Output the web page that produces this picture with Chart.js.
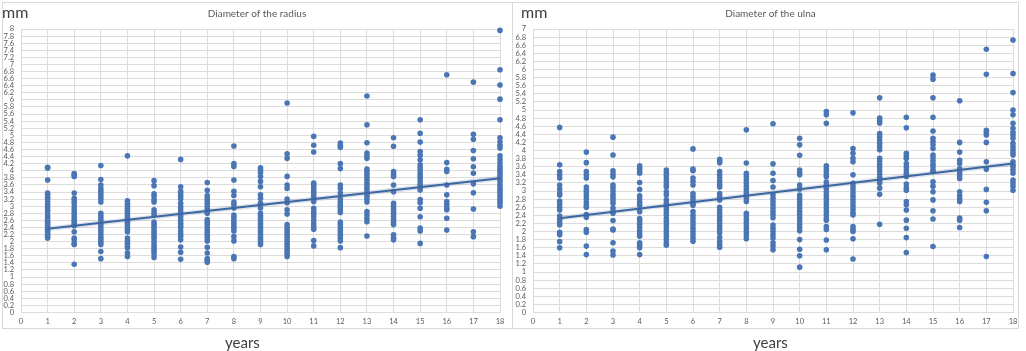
<!DOCTYPE html>
<html>
<head>
<meta charset="utf-8">
<script src="https://cdn.jsdelivr.net/npm/chart.js@4/dist/chart.umd.min.js"></script>
<style>
  html, body { margin: 0; padding: 0; background: #ffffff; }
  body { width: 1026px; height: 351px; position: relative; overflow: hidden; font-family: Lato, "Open Sans", sans-serif; }
  .panel { position: absolute; top: 2px; height: 327px; border: 1px solid #d9d9d9; box-sizing: border-box; }
  .wrap { position: absolute; top: 0; height: 351px; }
  .unit { position: absolute; top: 2px; font-size: 16px; color: #404040; }
  .xlab { position: absolute; top: 333px; font-size: 15px; color: #404040; }
</style>
</head>
<body>
<div class="panel" style="left:2px;width:511px;"></div>
<div class="panel" style="left:512px;width:507px;"></div>
<div class="wrap" style="left:0;width:512px;"><canvas id="c1" width="512" height="351"></canvas></div>
<div class="wrap" style="left:513px;width:513px;"><canvas id="c2" width="513" height="351"></canvas></div>
<div class="unit" style="left:2px;">mm</div>
<div class="unit" style="left:521px;">mm</div>
<div class="xlab" style="left:225px;">years</div>
<div class="xlab" style="left:753px;">years</div>
<script>
// ---------- data ----------
const ages = [1,2,3,4,5,6,7,8,9,10,11,12,13,14,15,16,17,18];

const radiusValues = [
  [4.1,4.08,3.74,3.37,3.32,3.25,3.2,3.12,3.05,2.98,2.9,2.85,2.75,2.68,2.6,2.55,2.5,2.45,2.4,2.35,2.3,2.25,2.2,2.15,2.1],
  [3.92,3.88,3.84,3.37,3.22,3.15,3.08,2.98,2.9,2.82,2.75,2.68,2.6,2.55,2.48,2.45,2.28,2.1,2.05,1.95,1.92,1.36],
  [4.15,3.75,3.6,3.5,3.42,3.35,3.28,3.2,3.12,2.8,2.72,2.65,2.58,2.5,2.42,2.35,2.28,2.2,2.12,2.05,1.98,1.92,1.72,1.52],
  [4.42,3.15,3.08,3.02,2.95,2.9,2.85,2.78,2.72,2.65,2.6,2.55,2.5,2.42,2.35,2.28,2.1,2.02,1.95,1.88,1.82,1.68,1.58],
  [3.72,3.58,3.35,3.28,3.18,3.12,2.9,2.82,2.75,2.55,2.48,2.42,2.35,2.28,2.22,2.15,2.08,2.0,1.92,1.85,1.78,1.72,1.65,1.55],
  [4.32,3.55,3.42,3.35,3.28,3.2,3.08,2.98,2.9,2.82,2.75,2.68,2.6,2.52,2.45,2.4,2.3,2.22,2.15,2.05,1.85,1.7,1.5],
  [3.67,3.45,3.3,3.22,3.15,3.08,3.0,2.92,2.85,2.8,2.62,2.55,2.48,2.4,2.32,2.25,2.18,2.1,2.02,1.84,1.68,1.52,1.47,1.42],
  [4.7,4.2,4.12,3.74,3.42,3.3,3.12,3.05,2.95,2.75,2.68,2.6,2.52,2.45,2.38,2.3,2.14,2.02,1.58,1.52],
  [4.08,4.02,3.95,3.84,3.7,3.55,3.32,3.22,3.08,2.95,2.8,2.72,2.65,2.58,2.5,2.42,2.35,2.28,2.2,2.12,2.05,1.98,1.92],
  [5.91,4.48,4.35,3.84,3.6,3.5,3.2,3.1,2.9,2.78,2.48,2.4,2.32,2.25,2.18,2.1,2.02,1.95,1.88,1.8,1.72,1.65,1.58],
  [4.97,4.72,4.53,3.65,3.58,3.5,3.42,3.35,3.28,3.2,3.13,2.94,2.85,2.78,2.7,2.6,2.5,2.42,2.35,2.03,1.88],
  [4.78,4.72,4.66,4.2,4.06,3.6,3.5,3.37,3.2,3.12,3.05,2.98,2.9,2.82,2.55,2.48,2.4,2.32,2.25,2.18,2.1,2.02,1.83],
  [6.11,5.3,4.79,4.5,4.42,4.35,4.05,3.98,3.9,3.82,3.74,3.65,3.58,3.5,3.42,3.35,3.28,3.2,3.12,2.85,2.75,2.65,2.56,2.16],
  [4.93,4.69,3.98,3.9,3.84,3.6,3.41,3.08,3.0,2.92,2.85,2.78,2.7,2.62,2.55,2.48,2.19,2.1,2.05],
  [5.44,5.06,4.81,4.54,4.44,4.31,4.17,4.08,4.0,3.92,3.85,3.78,3.7,3.62,3.55,3.46,3.19,3.1,2.94,2.7,2.38,2.3,1.95],
  [6.71,4.23,4.04,3.98,3.6,3.32,3.13,3.05,2.95,2.9,2.66,2.33],
  [6.5,5.03,4.89,4.57,4.34,4.11,3.93,3.63,3.38,2.92,2.28,2.14],
  [7.96,6.85,6.42,6.02,5.44,4.93,4.82,4.72,4.64,4.42,4.32,4.22,4.12,4.05,3.98,3.9,3.82,3.75,3.68,3.6,3.52,3.45,3.38,3.3,3.22,3.15,3.08,3.0]
];

const ulnaValues = [
  [4.57,3.65,3.48,3.4,3.32,3.15,3.05,2.95,2.9,2.75,2.68,2.6,2.53,2.38,2.3,2.22,2.16,1.98,1.92,1.75,1.6],
  [3.96,3.7,3.48,3.4,3.32,3.1,3.02,2.95,2.88,2.8,2.72,2.65,2.6,2.42,2.35,2.05,1.98,1.64,1.43],
  [4.33,3.89,3.5,3.42,3.35,3.15,3.08,3.0,2.92,2.85,2.78,2.7,2.58,2.5,2.45,2.27,2.06,2.04,1.72,1.52,1.42],
  [3.62,3.56,3.5,3.44,3.21,3.04,2.88,2.8,2.72,2.65,2.49,2.32,2.25,2.18,2.1,2.02,1.95,1.88,1.72,1.66,1.6,1.43],
  [3.52,3.45,3.38,3.3,3.22,3.15,3.1,2.98,2.9,2.78,2.7,2.62,2.55,2.48,2.41,2.32,2.25,2.18,2.1,2.02,1.95,1.88,1.8,1.72,1.66],
  [4.04,3.54,3.5,3.32,3.24,3.15,2.94,2.86,2.78,2.7,2.65,2.49,2.4,2.32,2.24,2.16,2.08,2.0,1.92,1.84,1.76],
  [3.78,3.74,3.7,3.48,3.4,3.32,3.24,3.16,3.1,2.94,2.86,2.78,2.6,2.52,2.44,2.36,2.28,2.2,2.12,2.04,1.96,1.85,1.75,1.68,1.61],
  [4.51,3.69,3.44,3.36,3.28,3.2,3.12,3.04,2.96,2.9,2.82,2.74,2.45,2.38,2.3,2.22,2.14,2.06,1.98,1.9,1.82],
  [4.66,3.67,3.44,3.26,3.1,2.9,2.82,2.74,2.66,2.58,2.5,2.42,2.34,2.16,2.08,2.0,1.92,1.84,1.72,1.64,1.55],
  [4.3,4.14,3.88,3.52,3.45,3.4,3.15,3.05,2.9,2.82,2.74,2.66,2.58,2.5,2.42,2.34,2.26,2.18,2.1,2.02,1.8,1.56,1.4,1.12],
  [4.96,4.88,4.67,3.62,3.55,3.48,3.4,3.35,3.22,3.14,3.06,2.98,2.9,2.82,2.74,2.66,2.58,2.5,2.42,2.34,2.28,2.12,2.05,1.79,1.55],
  [4.93,4.05,3.93,3.81,3.72,3.4,3.19,3.11,3.03,2.95,2.87,2.79,2.71,2.63,2.55,2.47,2.41,2.12,2.05,2.0,1.82,1.32],
  [5.3,4.8,4.74,4.68,4.42,4.34,4.26,4.18,4.1,4.02,3.81,3.74,3.66,3.58,3.5,3.42,3.34,3.26,3.19,3.07,2.92,2.18],
  [4.82,4.56,3.93,3.86,3.8,3.68,3.6,3.52,3.44,3.36,3.17,3.08,3.02,2.74,2.66,2.53,2.28,2.08,1.85,1.48],
  [5.86,5.76,5.3,4.82,4.48,4.3,4.22,4.14,4.05,3.89,3.82,3.74,3.66,3.6,3.52,3.48,3.23,3.12,2.98,2.78,2.51,2.31,1.63],
  [5.23,4.2,3.96,3.76,3.68,3.55,3.45,3.38,3.31,2.98,2.88,2.8,2.74,2.33,2.28,2.1],
  [6.5,5.88,4.5,4.44,4.38,4.2,3.72,3.54,3.04,2.72,2.51,1.38],
  [6.73,5.9,5.43,5.0,4.88,4.67,4.55,4.45,4.38,4.3,4.18,4.1,4.02,3.95,3.89,3.72,3.65,3.6,3.52,3.44,3.27,3.2,3.12,3.02]
];

const trendAges = [1, 18];
const radiusTrend = [2.36, 3.79];
const ulnaTrend = [2.33, 3.68];

const radiusTitle = 'Diameter of the radius';
const ulnaTitle = 'Diameter of the ulna';

// ---------- drawing ----------
const FONT = 'Lato, "Open Sans", sans-serif';
const POINT = '#4a76b6';
const GRID = '#dcdcdc';
const TICK = '#595959';

function toPoints(values) {
  const pts = [];
  values.forEach((col, i) => col.forEach(v => pts.push({ x: ages[i], y: v })));
  return pts;
}
function trendPoints(t) {
  return trendAges.map((a, i) => ({ x: a, y: t[i] }));
}

function makeChart(id, values, trend, yMax, title, yAxisWidth, rightPad) {
  const tp = trendPoints(trend);
  new Chart(document.getElementById(id), {
    type: 'scatter',
    data: {
      datasets: [
        { type: 'line', data: tp, borderColor: '#3b67a3', borderWidth: 2, pointRadius: 0, fill: false, tension: 0, clip: false },
        { type: 'line', data: tp, borderColor: 'rgba(90,110,150,0.2)', borderWidth: 5, pointRadius: 0, fill: false, tension: 0, clip: false },
        { data: toPoints(values), backgroundColor: POINT, borderColor: POINT, pointRadius: 2.8, pointHoverRadius: 2.8, borderWidth: 0, clip: false }
      ]
    },
    options: {
      responsive: false,
      animation: false,
      devicePixelRatio: 1,
      layout: { padding: { top: 29, right: rightPad, bottom: 0, left: 0 } },
      plugins: {
        legend: { display: false },
        tooltip: { enabled: false },
        title: { display: false }
      },
      scales: {
        x: {
          type: 'linear', min: 0, max: 18,
          afterFit: s => { s.height = 38.5; },
          grid: { color: GRID, drawTicks: false, lineWidth: 1 },
          border: { color: GRID },
          ticks: { stepSize: 1, padding: 5, color: TICK, font: { family: FONT, size: 7.5 }, autoSkip: false, maxRotation: 0 }
        },
        y: {
          type: 'linear', min: 0, max: yMax,
          afterFit: s => { s.width = yAxisWidth; },
          grid: { color: GRID, drawTicks: false, lineWidth: 1 },
          border: { color: GRID },
          ticks: { stepSize: 0.2, padding: 7, color: TICK, font: { family: FONT, size: 7.5 }, autoSkip: false,
                   callback: v => String(Math.round(v * 10) / 10) }
        }
      }
    },
    plugins: [{
      id: 'titleText',
      afterDraw(chart) {
        const ctx = chart.ctx;
        ctx.save();
        ctx.font = '10px ' + FONT;
        ctx.fillStyle = TICK;
        ctx.textAlign = 'center';
        ctx.textBaseline = 'middle';
        ctx.fillText(title, chart.width / 2 + 1, 14);
        ctx.restore();
      }
    }]
  });
}

makeChart('c1', radiusValues, radiusTrend, 8, radiusTitle, 21, 12);
makeChart('c2', ulnaValues, ulnaTrend, 7, ulnaTitle, 20, 13);
</script>
</body>
</html>
